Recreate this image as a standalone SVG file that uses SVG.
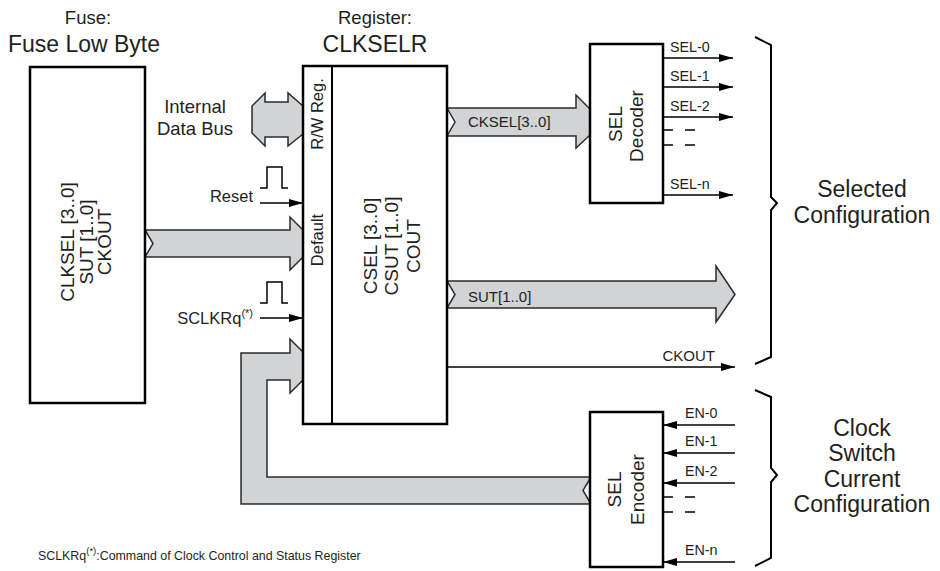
<svg xmlns="http://www.w3.org/2000/svg" width="940" height="571" viewBox="0 0 940 571">
<style>
text{font-family:"Liberation Sans",Arial,sans-serif;fill:#231f20}
.box{fill:#fff;stroke:#000;stroke-width:2.5}
.bus{fill:#d1d3d4;stroke:#2b2b2b;stroke-width:1.5;stroke-linejoin:miter}
.wire{fill:none;stroke:#000;stroke-width:1.6}
.pulse{fill:none;stroke:#000;stroke-width:1.5}
.brace{fill:none;stroke:#000;stroke-width:2}
.t13{font-size:14.3px}
.t15{font-size:15px}
.t16{font-size:16.5px}
.t18{font-size:18.5px}
.t19{font-size:19px}
.t23{font-size:23px}
</style>
<defs>
<marker id="ah" viewBox="0 0 14 8" refX="14" refY="4" markerWidth="14" markerHeight="8" markerUnits="userSpaceOnUse" orient="auto">
<path d="M0,0 L14,4 L0,8 Z" fill="#000"/>
</marker>
</defs>
<rect width="940" height="571" fill="#fff"/>

<g id="connectors">
<polygon class="bus" points="145,230 290,230 290,217 303,230 303,257 290,270 290,257 145,257 153,243.5"/>
<polygon class="bus" points="252,106 265,93 265,102 288,102 288,93 303,106 303,134 288,146 288,137 265,137 265,146 252,133"/>
<polygon class="bus" points="447,108 576,108 576,95 590,109 590,135 576,148 576,136 447,136 455,122"/>
<polygon class="bus" points="447,281 716,281 716,266 735,294.5 716,322 716,308 447,308 455,294.5"/>
<polygon class="bus" points="591,477 583,490.5 591,504 241,504 241,353 290,353 290,339 303,352 303,380 290,393 290,380 267,380 267,477"/>
<line class="wire" x1="260" y1="203" x2="303" y2="203" marker-end="url(#ah)"/>
<line class="wire" x1="260" y1="318" x2="303" y2="318" marker-end="url(#ah)"/>
<polyline class="pulse" points="260,188 267,188 267,167 282,167 282,188 288,188"/>
<polyline class="pulse" points="260,303 267,303 267,282 282,282 282,303 288,303"/>
<line class="wire" x1="447" y1="367" x2="735" y2="367" marker-end="url(#ah)"/>
<line class="wire" x1="663" y1="58" x2="733" y2="58" marker-end="url(#ah)"/>
<line class="wire" x1="663" y1="87" x2="733" y2="87" marker-end="url(#ah)"/>
<line class="wire" x1="663" y1="117" x2="733" y2="117" marker-end="url(#ah)"/>
<line class="wire" x1="663" y1="195" x2="733" y2="195" marker-end="url(#ah)"/>
<path class="wire" d="M663,130 H673 M685,130 H695 M663,145 H673 M685,145 H695"/>
<line class="wire" x1="735" y1="425" x2="663" y2="425" marker-end="url(#ah)"/>
<line class="wire" x1="735" y1="453" x2="663" y2="453" marker-end="url(#ah)"/>
<line class="wire" x1="735" y1="483" x2="663" y2="483" marker-end="url(#ah)"/>
<line class="wire" x1="735" y1="562" x2="663" y2="562" marker-end="url(#ah)"/>
<path class="wire" d="M663,497 H673 M685,497 H695 M663,512 H673 M685,512 H695"/>
<path class="brace" d="M755,37 L771,45 L771,197 L777,203 L771,210 L771,357 L755,364"/>
<path class="brace" d="M755,390 L771,397 L771,468 L777,475 L771,482 L771,558 L755,566"/>
</g>

<g id="fuse">
<text class="t18" x="88" y="24" text-anchor="middle">Fuse:</text>
<text class="t23" x="84" y="52" text-anchor="middle">Fuse Low Byte</text>
<rect class="box" x="30" y="67" width="115" height="336"/>
<text class="t19" text-anchor="middle" transform="translate(74,242) rotate(-90)">CLKSEL [3..0]</text>
<text class="t19" text-anchor="middle" transform="translate(93,242) rotate(-90)">SUT [1..0]</text>
<text class="t19" text-anchor="middle" transform="translate(111,242) rotate(-90)">CKOUT</text>
</g>

<g id="register">
<text class="t18" x="375" y="24" text-anchor="middle">Register:</text>
<text class="t23" x="375" y="52" text-anchor="middle">CLKSELR</text>
<rect class="box" x="303" y="66" width="144" height="358"/>
<line x1="332" y1="66" x2="332" y2="424" stroke="#000" stroke-width="2"/>
<text class="t16" text-anchor="middle" transform="translate(323,114) rotate(-90)">R/W Reg.</text>
<text class="t16" text-anchor="middle" transform="translate(323,240) rotate(-90)">Default</text>
<text class="t19" text-anchor="middle" transform="translate(377,246) rotate(-90)">CSEL [3..0]</text>
<text class="t19" text-anchor="middle" transform="translate(398,246) rotate(-90)">CSUT [1..0]</text>
<text class="t19" text-anchor="middle" transform="translate(420,246) rotate(-90)">COUT</text>
</g>

<g id="bus-label">
<text class="t18" x="195" y="113" text-anchor="middle">Internal</text>
<text class="t18" x="195" y="135" text-anchor="middle">Data Bus</text>
</g>
<g id="reset-label">
<text class="t16" x="253" y="202" text-anchor="end">Reset</text>
</g>
<g id="sclkrq-label">
<text class="t16" x="253" y="324" text-anchor="end">SCLKRq<tspan font-size="11" dy="-7">(*)</tspan></text>
</g>

<g id="sel-decoder">
<rect class="box" x="590" y="44" width="73" height="159"/>
<text class="t19" text-anchor="middle" transform="translate(622,124) rotate(-90)">SEL</text>
<text class="t19" text-anchor="middle" transform="translate(643,126) rotate(-90)">Decoder</text>
<text class="t13" x="670" y="52">SEL-0</text>
<text class="t13" x="670" y="81">SEL-1</text>
<text class="t13" x="670" y="111">SEL-2</text>
<text class="t13" x="670" y="189">SEL-n</text>
</g>

<g id="sel-encoder">
<rect class="box" x="590" y="412" width="73" height="155"/>
<text class="t19" text-anchor="middle" transform="translate(621,489.5) rotate(-90)">SEL</text>
<text class="t19" text-anchor="middle" transform="translate(644,489.5) rotate(-90)">Encoder</text>
<text class="t13" x="685" y="418">EN-0</text>
<text class="t13" x="685" y="446">EN-1</text>
<text class="t13" x="685" y="476">EN-2</text>
<text class="t13" x="685" y="555">EN-n</text>
</g>

<g id="bus-labels">
<text class="t15" x="468" y="127">CKSEL[3..0]</text>
<text class="t15" x="468" y="302">SUT[1..0]</text>
<text class="t15" x="715" y="361" text-anchor="end">CKOUT</text>
</g>

<g id="selected-config">
<text class="t23" x="862" y="197" text-anchor="middle">Selected</text>
<text class="t23" x="862" y="223" text-anchor="middle">Configuration</text>
</g>
<g id="current-config">
<text class="t23" x="862" y="436" text-anchor="middle">Clock</text>
<text class="t23" x="862" y="461" text-anchor="middle">Switch</text>
<text class="t23" x="862" y="487" text-anchor="middle">Current</text>
<text class="t23" x="862" y="512" text-anchor="middle">Configuration</text>
</g>

<g id="footnote">
<text x="38" y="560" font-size="12.4">SCLKRq<tspan font-size="9.5" dy="-6">(*)</tspan><tspan dy="6">:Command of Clock Control and Status Register</tspan></text>
</g>
</svg>
